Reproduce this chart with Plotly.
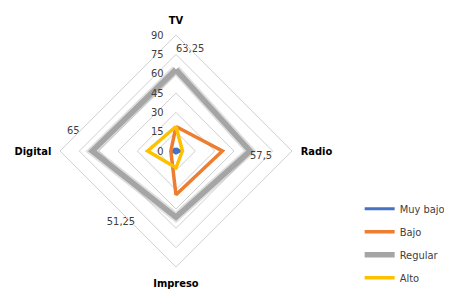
import plotly.graph_objects as go

categories = ["TV", "Radio", "Impreso", "Digital"]
muy_bajo = [2, 3, 1.5, 3]
bajo = [19, 36, 34, 4]
regular = [63.25, 57.5, 51.25, 65]
alto = [19, 5, 13, 22]
regular_labels = ["63,25", "57,5", "51,25", "65"]
tick_vals = [0, 15, 30, 45, 60, 75, 90]

FONT = "DejaVu Sans Condensed, Liberation Sans, sans-serif"
NB = "\u00a0"

series = [
    ("Muy bajo", muy_bajo, "#4472C4", 3),
    ("Bajo", bajo, "#ED7D31", 3.5),
    ("Regular", regular, "#A5A5A5", 5.5),
    ("Alto", alto, "#FFC000", 3.5),
]

def closed(v):
    return list(v) + [v[0]]

label_text = [
    regular_labels[0] + "<br>" + NB,
    regular_labels[1],
    regular_labels[2] + NB * 13,
    regular_labels[3] + NB * 4 + "<br>" + NB,
    "",
]

fig = go.Figure()
fig.add_trace(go.Scatterpolar(
    r=closed(regular), theta=closed(categories), mode="lines",
    line=dict(color="rgba(160,160,160,0.35)", width=9),
    showlegend=False, hoverinfo="skip"))

for name, vals, color, w in series:
    if name == "Regular":
        kw = dict(mode="lines+text", text=label_text,
                  textposition=["top right", "bottom right", "bottom left", "top left", "top left"],
                  textfont=dict(family=FONT, size=11, color="#404040"))
    else:
        kw = dict(mode="lines")
    fig.add_trace(go.Scatterpolar(
        r=closed(vals), theta=closed(categories), name=name,
        line=dict(color=color, width=w), legendgroup=name, **kw))

fig.update_layout(
    width=452, height=291,
    margin=dict(l=0, r=0, t=0, b=0),
    paper_bgcolor="white",
    font=dict(family=FONT, size=11, color="#404040"),
    polar=dict(
        domain=dict(x=[0.1128, 0.6305], y=[0.11, 0.907]),
        gridshape="linear",
        bgcolor="white",
        radialaxis=dict(range=[0, 90], tickvals=tick_vals, angle=90, side="counterclockwise",
                        tickangle=90, showline=False, gridcolor="#D0D0D0", gridwidth=1,
                        ticks="outside", ticklen=8, tickcolor="rgba(0,0,0,0)",
                        tickfont=dict(size=11, color="#404040")),
        angularaxis=dict(rotation=90, direction="clockwise", showgrid=False,
                         showline=True, linecolor="#D0D0D0", linewidth=1,
                         ticks="outside", ticklen=6, tickcolor="rgba(0,0,0,0)",
                         tickfont=dict(size=11, color="#000000", family=FONT, weight="bold")),
    ),
    legend=dict(x=0.778, y=0.36, yanchor="top", xanchor="left", tracegroupgap=4,
                font=dict(size=11, color="#404040"), bgcolor="rgba(0,0,0,0)"),
)

fig.write_html("out.html")
